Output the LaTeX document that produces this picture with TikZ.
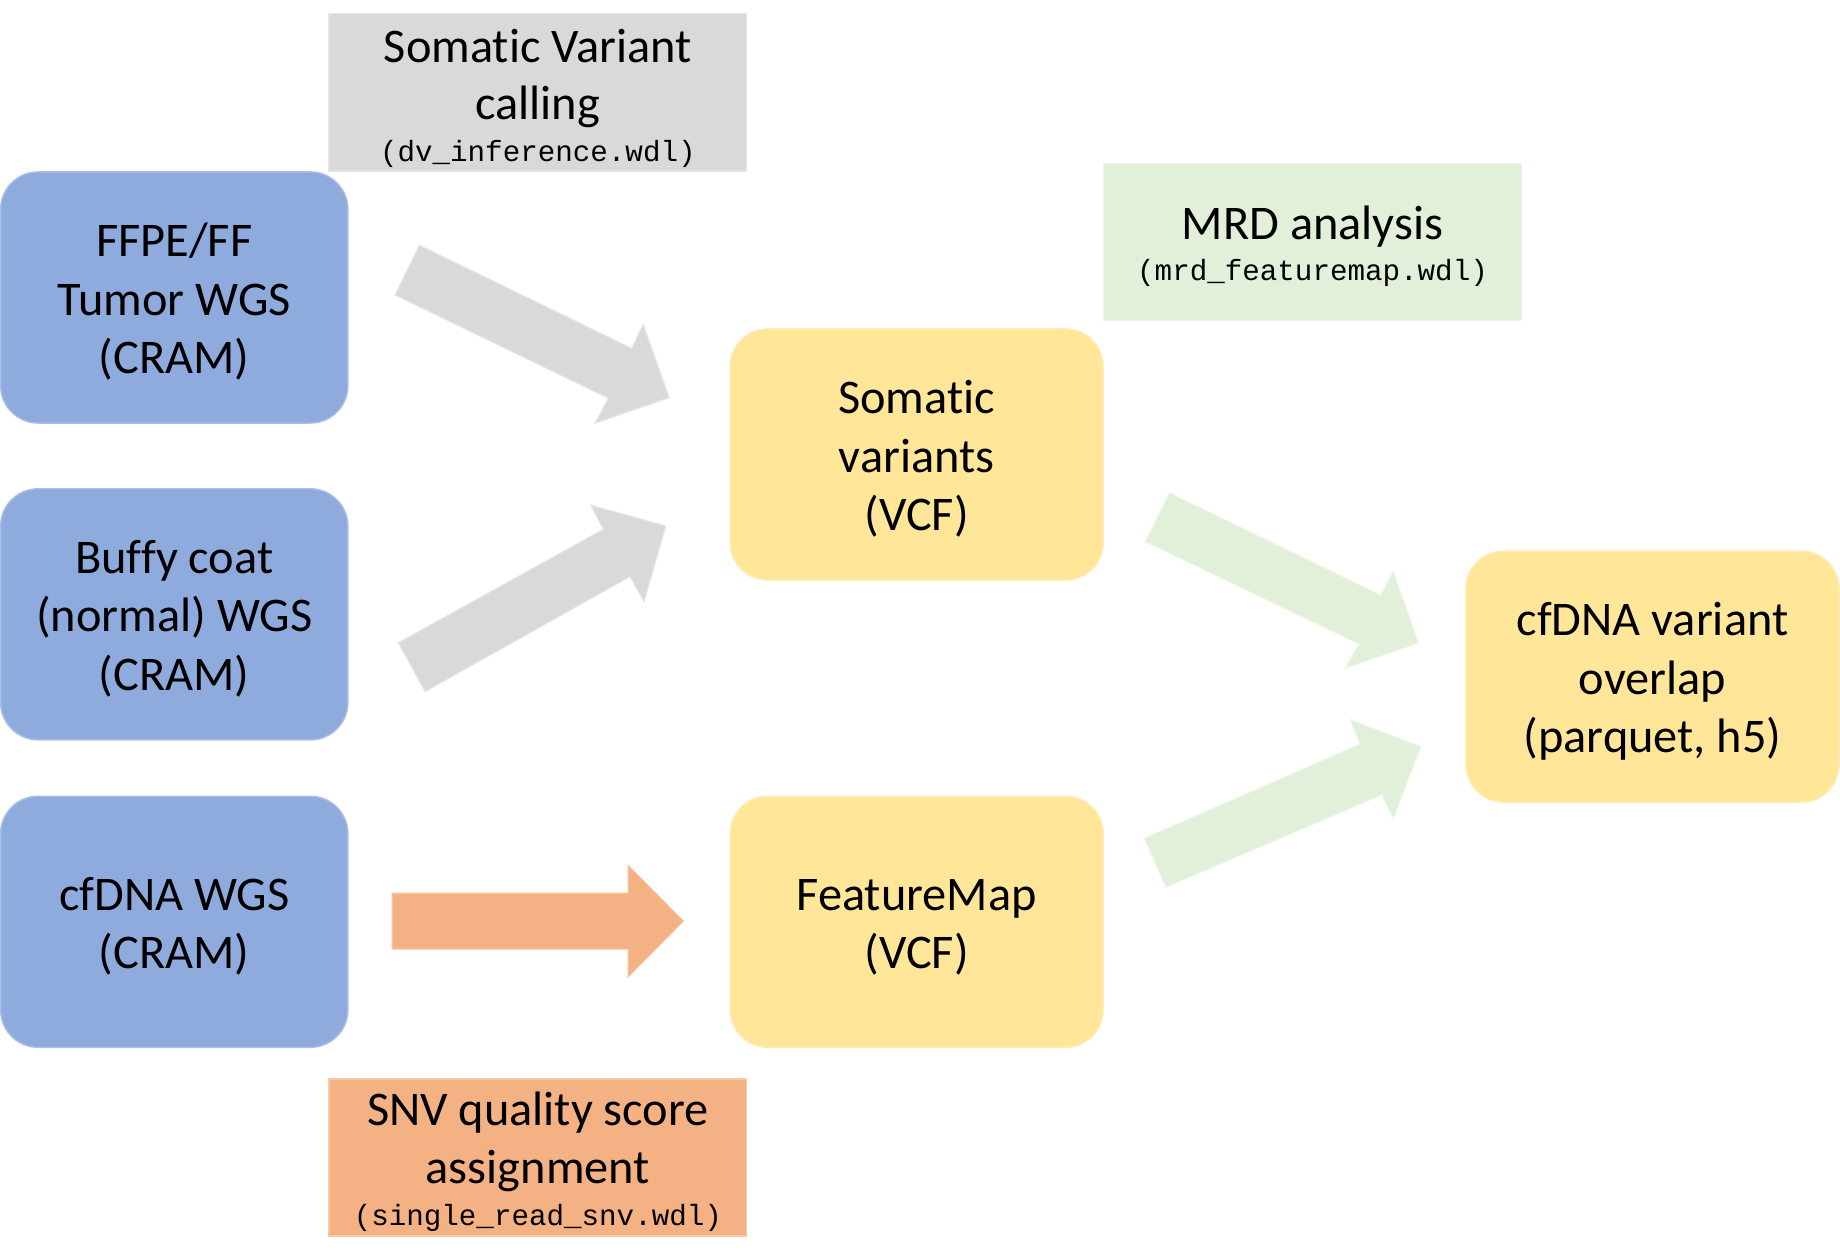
\documentclass[tikz,border=0pt]{standalone}
\usepackage{fontspec}
\setmainfont{Carlito}[Ligatures=NoCommon]
\newfontfamily\monofont{Liberation Mono}
\definecolor{boxblue}{HTML}{8FAADC}
\definecolor{boxyellow}{HTML}{FFE699}
\definecolor{boxgray}{HTML}{D9D9D9}
\definecolor{boxgreen}{HTML}{E2F0D9}
\definecolor{boxorange}{HTML}{F4B183}
\tikzset{
  rbox/.style={rectangle, rounded corners=16pt, minimum width=148pt, minimum height=107pt, inner sep=0pt, line width=0.6pt},
  bluebox/.style={rbox, fill=boxblue, draw=boxblue!75!white},
  yelbox/.style={rbox, fill=boxyellow, draw=boxyellow!70!white, minimum width=159pt},
  stepbox/.style={rectangle, minimum width=178pt, minimum height=67pt, inner sep=0pt, line width=0.6pt},
  boxtext/.style={inner sep=0pt, align=center, font=\fontsize{20.6}{25}\selectfont},
  mainline/.style={inner sep=0pt, anchor=base, font=\fontsize{20.6}{25}\selectfont},
  monoline/.style={inner sep=0pt, anchor=base, font=\monofont\fontsize{12.45}{14}\selectfont},
  blockarrow/.style={line width=0.5pt, line join=miter},
}
\begin{document}
\begin{tikzpicture}[x=0.5pt, y=-0.5pt]
\useasboundingbox (0,0) rectangle (1568,1067.8);

% step boxes (rectangles)
\node[stepbox, fill=boxgray, draw=boxgray!70!white] (svc) at (458.35,78.65) {};
\node[mainline] (svc1) at (458.35,53.1) {Somatic Variant};
\node[mainline] (svc2) at (458.35,101.5) {calling};
\node[monoline] (svc3) at (458.35,137.2) {(dv\_inference.wdl)};

\node[stepbox, fill=boxgreen, draw=boxgreen!60!white] (mrd) at (1118.5,206.25) {};
\node[mainline] (mrd1) at (1118.5,204) {MRD analysis};
\node[monoline] (mrd2) at (1118.5,239.2) {(mrd\_featuremap.wdl)};

\node[stepbox, fill=boxorange, draw=boxorange!70!white] (snv) at (458.35,986.4) {};
\node[mainline] (snv1) at (458.35,959.5) {SNV quality score};
\node[mainline] (snv2) at (458.35,1008.5) {assignment};
\node[monoline] (snv3) at (458.35,1043.9) {(single\_read\_snv.wdl)};

% input boxes
\node[bluebox] (ffpe) at (148.5,253.5) {};
\node[boxtext] (ffpet) at ([yshift=-2.5pt]ffpe.center) {\strut FFPE/FF\\Tumor WGS\\(CRAM)\strut};
\node[bluebox] (buffy) at (148.5,523.5) {};
\node[boxtext] (buffyt) at ([yshift=-2.5pt]buffy.center) {\strut Buffy coat\\(normal) WGS\\(CRAM)\strut};
\node[bluebox] (cfdna) at (148.5,785.5) {};
\node[boxtext] (cfdnat) at ([yshift=-2.5pt]cfdna.center) {\strut cfDNA WGS\\(CRAM)\strut};

% intermediate / output boxes
\node[yelbox] (somatic) at (781.1,387.3) {};
\node[boxtext] (somatict) at ([yshift=-2.5pt]somatic.center) {\strut Somatic\\variants\\(VCF)\strut};
\node[yelbox] (fmap) at (781.1,785.5) {};
\node[boxtext] (fmapt) at ([yshift=-2.5pt]fmap.center) {\strut FeatureMap\\(VCF)\strut};
\node[yelbox] (overlap) at (1408.2,576.6) {};
\node[boxtext] (overlapt) at ([yshift=-2.5pt]overlap.center) {\strut cfDNA variant\\overlap\\(parquet, h5)\strut};

% block arrows
\filldraw[blockarrow, fill=boxgray, draw=boxgray!60!white]
  (357.3,208.8) -- (538.3,296.8) -- (548.2,276.4) -- (570.3,338.9) -- (507.0,360.7) -- (518.4,339.4) -- (336.6,251.4) -- cycle;
\filldraw[blockarrow, fill=boxgray, draw=boxgray!60!white]
  (339.4,547.7) -- (514.1,451.0) -- (503.4,430.4) -- (567.5,448.2) -- (548.8,512.7) -- (536.9,491.4) -- (362.2,589.4) -- cycle;
\filldraw[blockarrow, fill=boxgreen, draw=boxgreen!50!white]
  (996.4,419.8) -- (1176.6,507.0) -- (1187.3,486.3) -- (1208.9,548.2) -- (1146.1,569.5) -- (1157.8,548.8) -- (975.7,461.6) -- cycle;
\filldraw[blockarrow, fill=boxgreen, draw=boxgreen!50!white]
  (974.9,714.4) -- (1158.9,634.0) -- (1150.4,613.0) -- (1210.9,636.3) -- (1187.3,698.2) -- (1177.4,677.5) -- (993.6,756.1) -- cycle;
\filldraw[blockarrow, fill=boxorange, draw=boxorange!80!white]
  (334.3,761.2) -- (535.4,761.2) -- (535.4,737.7) -- (582.3,784.8) -- (535.4,832.3) -- (535.4,808.7) -- (334.3,808.7) -- cycle;
\end{tikzpicture}
\end{document}
